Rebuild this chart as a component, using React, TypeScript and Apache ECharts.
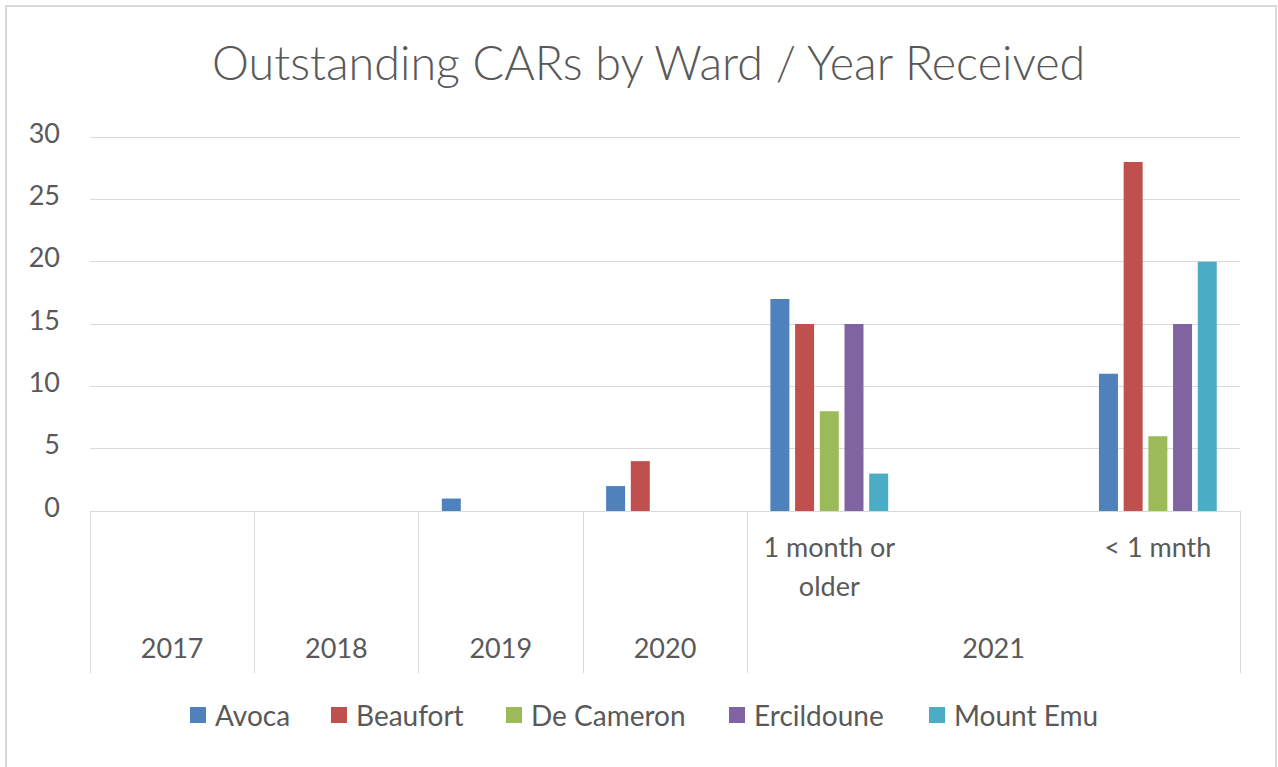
import React, { useEffect, useRef } from 'react';
import * as echarts from 'echarts';

const categoryKeys = ['2017', '2018', '2019', '2020', '2021-old', '2021-gap', '2021-new'];
const subLabels = ['', '', '', '', '1 month or\nolder', '', '< 1 mnth'];
const yearLabels = ['2017', '2018', '2019', '2020', '', '2021', ''];
const seriesNames = ['Avoca', 'Beaufort', 'De Cameron', 'Ercildoune', 'Mount Emu'];
const avoca = [null, null, 1, 2, 17, null, 11];
const beaufort = [null, null, null, 4, 15, null, 28];
const deCameron = [null, null, null, null, 8, null, 6];
const ercildoune = [null, null, null, null, 15, null, 15];
const mountEmu = [null, null, null, null, 3, null, 20];
const seriesValues = [avoca, beaufort, deCameron, ercildoune, mountEmu];
const colors = ['#4F81BD', '#C0504D', '#9BBB59', '#8064A2', '#4BACC6'];
const yMin = 0;
const yMax = 30;
const yInterval = 5;
const yearBoundaryIdx = [0, 1, 2, 3, 4];

const FONT = 'Lato';
const TXT = '#595959';
const LINE = '#d9d9d9';
const legendLefts = [190, 331, 506, 729, 929];

export default function App() {
  const ref = useRef<HTMLDivElement>(null);
  useEffect(() => {
    if (!ref.current) return;
    const chart = echarts.init(ref.current, undefined, { renderer: 'svg' });
    chart.setOption({
      animation: false,
      color: colors,
      title: {
        text: 'Outstanding CARs by Ward / Year Received',
        left: 212,
        top: 39,
        padding: 0,
        textStyle: { fontFamily: FONT, fontSize: 46.7, fontWeight: 300, color: TXT, lineHeight: 46 },
      },
      graphic: [
        {
          type: 'rect',
          shape: { x: 6, y: 6, width: 1270, height: 780 },
          style: { fill: 'none', stroke: LINE, lineWidth: 2 },
          silent: true,
        },
      ],
      legend: seriesNames.map((name, k) => ({
        left: legendLefts[k],
        top: 701,
        padding: 0,
        icon: 'rect',
        itemWidth: 16,
        itemHeight: 16,
        textStyle: { fontFamily: FONT, fontSize: 28, color: TXT, padding: [0, 0, 0, 4] },
        data: [name],
      })),
      grid: { left: 90, right: 38, top: 137, bottom: 256, containLabel: false },
      xAxis: [
        {
          type: 'category',
          data: categoryKeys,
          position: 'bottom',
          axisLine: { show: true, lineStyle: { color: LINE, width: 1 } },
          axisTick: { show: false },
          axisLabel: {
            interval: 0,
            margin: 16,
            fontFamily: FONT,
            fontSize: 27,
            lineHeight: 39,
            color: TXT,
            formatter: (_v: string, i: number) => subLabels[i],
          },
        },
        {
          type: 'category',
          data: categoryKeys,
          position: 'bottom',
          axisLine: { show: false },
          axisTick: {
            show: true,
            length: 162,
            interval: (i: number) => yearBoundaryIdx.indexOf(i) >= 0,
            lineStyle: { color: LINE, width: 1 },
          },
          axisLabel: {
            interval: 0,
            margin: 121,
            fontFamily: FONT,
            fontSize: 27,
            lineHeight: 30,
            color: TXT,
            formatter: (_v: string, i: number) => yearLabels[i],
          },
        },
      ],
      yAxis: {
        type: 'value',
        min: yMin,
        max: yMax,
        interval: yInterval,
        axisLine: { show: false },
        axisTick: { show: false },
        splitLine: { lineStyle: { color: LINE, width: 1 } },
        axisLabel: {
          fontFamily: FONT,
          fontSize: 27,
          color: TXT,
          margin: 30,
          verticalAlign: 'bottom',
          lineHeight: 10,
        },
      },
      series: seriesNames.map((name, k) => ({
        name,
        type: 'bar',
        data: seriesValues[k],
        barWidth: 19,
        barGap: '30%',
        itemStyle: { color: colors[k] },
      })),
    });
    return () => chart.dispose();
  }, []);
  return <div ref={ref} style={{ position: 'absolute', left: 0, top: 0, width: 1278, height: 767 }} />;
}
